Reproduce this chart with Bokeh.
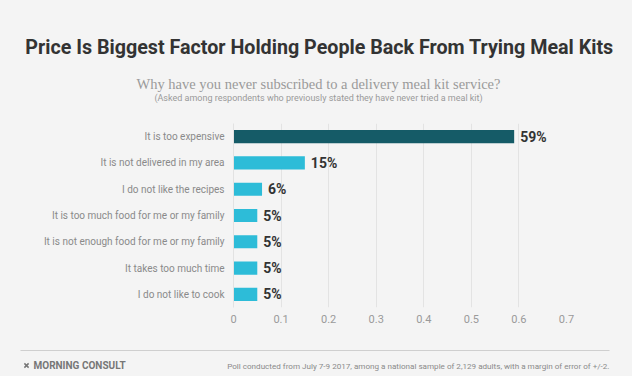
from bokeh.plotting import figure
from bokeh.layouts import column
from bokeh.models import Label, Range1d, FactorRange, ColumnDataSource
from bokeh.core.properties import value
from bokeh.embed import file_html
from bokeh.resources import INLINE

categories = [
    "It is too expensive",
    "It is not delivered in my area",
    "I do not like the recipes",
    "It is too much food for me or my family",
    "It is not enough food for me or my family",
    "It takes too much time",
    "I do not like to cook",
]
values = [0.59, 0.15, 0.06, 0.05, 0.05, 0.05, 0.05]
value_labels = ["59%", "15%", "6%", "5%", "5%", "5%", "5%"]
bar_colors = ["#155b67", "#2dbcd8", "#2dbcd8", "#2dbcd8", "#2dbcd8", "#2dbcd8", "#2dbcd8"]
x_ticks = [0, 0.1, 0.2, 0.3, 0.4, 0.5, 0.6, 0.7]

title_text = "Price Is Biggest Factor Holding People Back From Trying Meal Kits"
subtitle_text = "Why have you never subscribed to a delivery meal kit service?"
note_text = "(Asked among respondents who previously stated they have never tried a meal kit)"
brand_text = "MORNING CONSULT"
source_text = ("Poll conducted from July 7-9 2017, among a national sample of 2,129 adults, "
               "with a margin of error of +/-2.")

BG = "#f4f4f4"
W = 632
H_HEAD, H_CHART, H_FOOT = 123, 214, 39


def blank(h):
    f = figure(width=W, height=h, output_backend="svg", toolbar_location=None,
               x_range=Range1d(0, W), y_range=Range1d(h, 0),
               x_axis_type=None, y_axis_type=None, frame_align=False,
               min_border=0, min_border_left=0, min_border_right=0,
               min_border_top=0, min_border_bottom=0,
               background_fill_color=BG, border_fill_color=BG, outline_line_color=None)
    f.grid.visible = False
    return f


# ---- header ----
head = blank(H_HEAD)
head.add_layout(Label(x=W / 2 + 3, y=46.5, text=title_text, text_align="center",
                      text_baseline="alphabetic", text_font="Roboto", text_font_style="bold",
                      text_font_size="19.7px", text_color="#333333"))
head.add_layout(Label(x=W / 2 + 2, y=83, text=subtitle_text, text_align="center",
                      text_baseline="alphabetic", text_font="Liberation Serif",
                      text_font_size="14.5px", text_color="#9a9a9a"))
head.add_layout(Label(x=W / 2 + 2, y=97.5, text=note_text, text_align="center",
                      text_baseline="alphabetic", text_font="Roboto",
                      text_font_size="9px", text_color="#9a9a9a"))

# ---- chart ----
p = figure(
    width=W, height=H_CHART, output_backend="svg", toolbar_location=None,
    y_range=FactorRange(*list(reversed(categories))),
    x_range=Range1d(0, 0.7), frame_align=False,
    min_border_left=233, min_border_right=66, min_border_top=0, min_border_bottom=30,
    background_fill_color=BG, border_fill_color=BG, outline_line_color=None,
)

src = ColumnDataSource(dict(cat=categories, val=values, lab=value_labels, col=bar_colors))
p.hbar(y="cat", right="val", left=0, height=0.5, color="col", line_color=None, source=src)
p.text(x="val", y="cat", text="lab", source=src, x_offset=6, text_baseline="middle",
       text_align="left", text_font_size="14px", text_font_style="bold", text_color="#333333",
       text_font=value("Roboto"))

p.xaxis.ticker = x_ticks
p.xaxis.axis_line_color = None
p.xaxis.major_tick_line_color = None
p.xaxis.major_tick_out = 0
p.xaxis.minor_tick_line_color = None
p.xaxis.major_label_text_font = "Roboto"
p.xaxis.major_label_text_font_size = "11px"
p.xaxis.major_label_text_color = "#9a9a9a"
p.xaxis.major_label_standoff = 7

p.yaxis.axis_line_color = "#e2e2e2"
p.yaxis.major_tick_line_color = None
p.yaxis.major_tick_out = 0
p.yaxis.major_label_text_font = "Roboto"
p.yaxis.major_label_text_font_size = "10px"
p.yaxis.major_label_text_color = "#8a8a8a"
p.yaxis.major_label_standoff = 9

p.xgrid.grid_line_color = "#e3e3e3"
p.ygrid.grid_line_color = None

# ---- footer ----
foot = blank(H_FOOT)
foot.segment(x0=[20], y0=[13], x1=[609], y1=[13], line_color="#cfcfcf", line_width=1)
foot.scatter(x=[26], y=[28], marker="x", size=6, line_color="#777777", line_width=1.5)
foot.add_layout(Label(x=33, y=28, text=brand_text, text_align="left", text_baseline="middle",
                      text_font="Roboto", text_font_style="bold", text_font_size="10px",
                      text_color="#777777"))
foot.add_layout(Label(x=609, y=28, text=source_text, text_align="right", text_baseline="middle",
                      text_font="Roboto", text_font_size="8.1px", text_color="#8a8a8a"))

layout = column(head, p, foot, spacing=0)
layout.styles = {"background-color": BG}

open("out.html", "w").write(file_html(layout, INLINE))
